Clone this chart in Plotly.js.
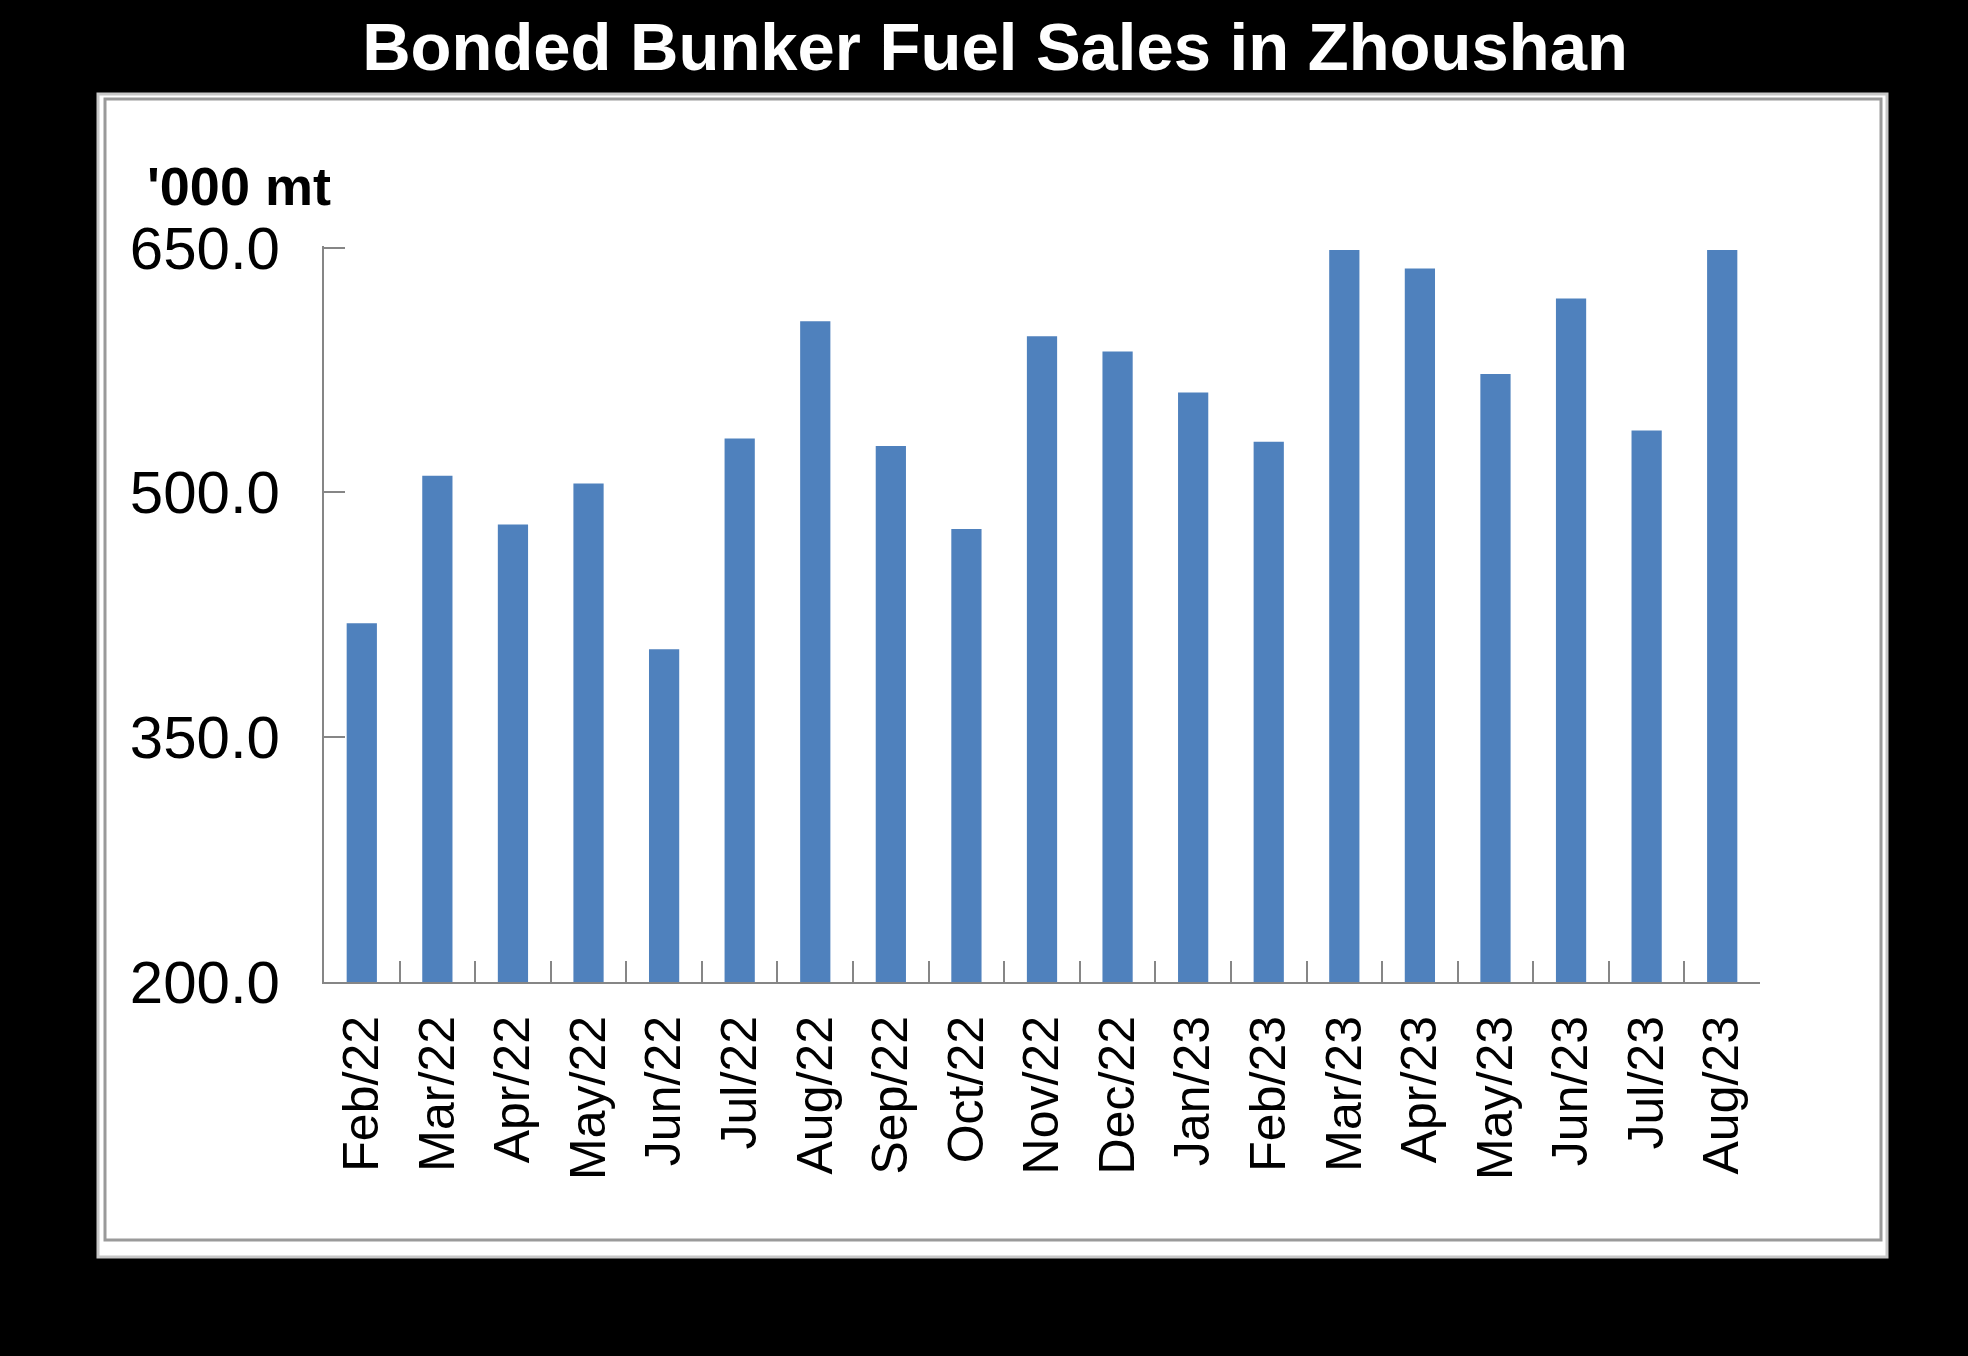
<!DOCTYPE html>
<html>
<head>
<meta charset="utf-8">
<script src="https://cdn.plot.ly/plotly-3.0.1.min.js"></script>
<style>
    html, body { margin: 0; padding: 0; background: #000; }
    #chart { width: 1968px; height: 1356px; }
</style>
</head>
<body>
<div id="chart"></div>
<script>
"use strict";

var months = ['Feb/22', 'Mar/22', 'Apr/22', 'May/22', 'Jun/22', 'Jul/22', 'Aug/22',
    'Sep/22', 'Oct/22', 'Nov/22', 'Dec/22', 'Jan/23', 'Feb/23', 'Mar/23', 'Apr/23',
    'May/23', 'Jun/23', 'Jul/23', 'Aug/23'];

// '000 mt
var sales = [419.9, 510.2, 480.3, 505.5, 403.9, 533.1, 604.9, 528.5, 477.6, 595.7,
    586.4, 561.2, 531.1, 648.6, 637.2, 572.6, 618.9, 538.0, 648.6];

var yTicks = [200, 350, 500, 650];

var W = 1968, H = 1356;
// top is a hair above 650 so plotly keeps the 650 tick mark
var plotBox = { l: 324, r: 1760, t: 246, b: 982 };

// pixel -> paper fraction, for the frame around the plot
function px(x) {
    return (x - plotBox.l) / (plotBox.r - plotBox.l);
}

function py(y) {
    return (plotBox.b - y) / (plotBox.b - plotBox.t);
}

function frame(x0, y0, x1, y1, line, fill) {
    return {
        type: 'rect', xref: 'paper', yref: 'paper', layer: 'below',
        x0: px(x0), x1: px(x1), y0: py(y1), y1: py(y0),
        line: line, fillcolor: fill
    };
}

var font = 'Arial, "Liberation Sans", sans-serif';
var axisGrey = '#868686';

var bars = {
    type: 'bar',
    x: months,
    y: sales,
    marker: { color: '#4F81BD', line: { width: 0 } },
    hoverinfo: 'x+y'
};

var layout = {
    width: W,
    height: H,
    paper_bgcolor: '#000000',
    plot_bgcolor: 'rgba(0,0,0,0)',
    margin: { l: plotBox.l, r: W - plotBox.r, t: plotBox.t, b: H - plotBox.b, pad: 0 },
    showlegend: false,
    bargap: 0.6,
    title: {
        text: 'Bonded Bunker Fuel Sales in Zhoushan',
        font: { family: font, size: 67, color: '#ffffff', weight: 'bold' },
        xref: 'container', yref: 'container',
        x: 995 / W, xanchor: 'center',
        y: 1 - 47 / H, yanchor: 'middle'
    },
    xaxis: {
        type: 'category',
        tickangle: -90,
        tickson: 'boundaries',
        ticks: 'inside',
        ticklen: 21,
        tickwidth: 2,
        tickcolor: axisGrey,
        showline: true,
        linecolor: axisGrey,
        linewidth: 2,
        showgrid: false,
        zeroline: false,
        ticklabelstandoff: 12,
        tickfont: { family: font, size: 50, color: '#000000' }
    },
    yaxis: {
        range: [200, 651],
        tickmode: 'array',
        tickvals: yTicks,
        tickformat: '.1f',
        ticks: 'inside',
        ticklen: 21,
        tickwidth: 2,
        tickcolor: axisGrey,
        showline: true,
        linecolor: axisGrey,
        linewidth: 2,
        showgrid: false,
        zeroline: false,
        ticklabelstandoff: 30,
        tickfont: { family: font, size: 60, color: '#000000' }
    },
    annotations: [{
        text: "<b>'000 mt</b>",
        xref: 'paper', yref: 'paper',
        x: px(145), xanchor: 'left',
        y: py(186), yanchor: 'middle',
        showarrow: false,
        font: { family: font, size: 54, color: '#000000' }
    }],
    shapes: [
        frame(98, 94, 1887, 1257, { color: '#c8c8c8', width: 3 }, '#ffffff'),
        frame(105, 99, 1881, 1240, { color: '#9a9a9a', width: 3 }, 'rgba(0,0,0,0)')
    ]
};

Plotly.newPlot('chart', [bars], layout, { displayModeBar: false, staticPlot: true });
</script>
</body>
</html>
